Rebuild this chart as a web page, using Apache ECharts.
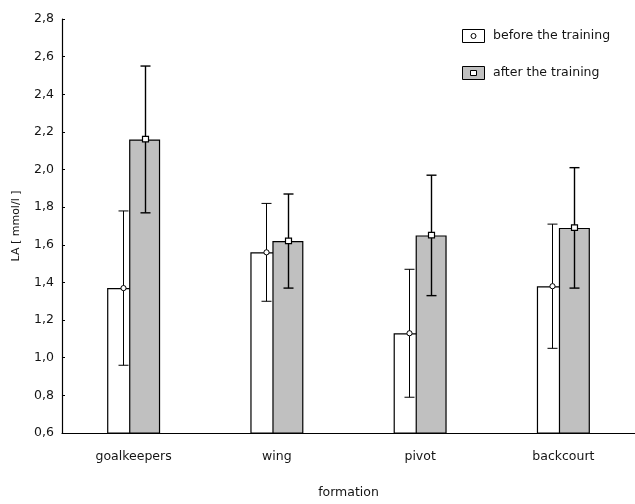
<!DOCTYPE html>
<html>
<head>
<meta charset="utf-8">
<script src="https://cdn.jsdelivr.net/npm/echarts@6/dist/echarts.min.js"></script>
<style>
  html, body { margin: 0; padding: 0; background: #fff; }
  #chart { width: 635px; height: 504px; }
</style>
</head>
<body>
<div id="chart"></div>
<script>
// Blood lactate (LA) by playing position, before and after training: mean ± SD
const categories = ['goalkeepers', 'wing', 'pivot', 'backcourt'];
const beforeMean = [1.37, 1.56, 1.13, 1.38];
const beforeSd   = [0.41, 0.26, 0.34, 0.33];
const afterMean  = [2.16, 1.62, 1.65, 1.69];
const afterSd    = [0.39, 0.25, 0.32, 0.32];
const yMin = 0.6, yMax = 2.8, yStep = 0.2;

const FONT = 'DejaVu Sans';
const FS = 12.5;
const TEXT = '#141414';
const BAR_W = 31;
const BAR_GAP = -0.29;
const HALF_STEP = (BAR_W + BAR_W * BAR_GAP) / 2;
const CAP = 5;

function errData(mean, sd) {
  return mean.map((m, i) => [i, +(m - sd[i]).toFixed(3), +(m + sd[i]).toFixed(3), m]);
}

function errRender(offset, marker, lw) {
  return function (params, api) {
    const i = api.value(0);
    const lo = api.coord([i, api.value(1)]);
    const hi = api.coord([i, api.value(2)]);
    const mid = api.coord([i, api.value(3)]);
    const x = Math.round(lo[0] + offset) + 0.5;
    const st = { stroke: '#000', lineWidth: lw };
    const children = [
      { type: 'line', shape: { x1: x, y1: hi[1], x2: x, y2: lo[1] }, style: st },
      { type: 'line', shape: { x1: x - CAP, y1: hi[1], x2: x + CAP, y2: hi[1] }, style: st },
      { type: 'line', shape: { x1: x - CAP, y1: lo[1], x2: x + CAP, y2: lo[1] }, style: st }
    ];
    if (marker === 'circle') {
      children.push({ type: 'circle', shape: { cx: x, cy: mid[1], r: 2.6 },
        style: { fill: '#fff', stroke: '#000', lineWidth: 1 } });
    } else {
      children.push({ type: 'rect', shape: { x: x - 3, y: mid[1] - 3, width: 6, height: 5.5 },
        style: { fill: '#fff', stroke: '#000', lineWidth: 1.2 } });
    }
    return { type: 'group', children: children };
  };
}

const chart = echarts.init(document.getElementById('chart'), null, { renderer: 'canvas' });

chart.setOption({
  animation: false,
  backgroundColor: '#fff',
  textStyle: { fontFamily: FONT, color: TEXT },
  grid: { left: 62, top: 19, width: 578, height: 414 },
  xAxis: {
    type: 'category',
    data: categories,
    boundaryGap: true,
    axisLine: { lineStyle: { color: '#000', width: 1.2 } },
    axisTick: { show: false },
    axisLabel: { color: TEXT, fontFamily: FONT, fontSize: FS, margin: 17 },
    name: 'formation',
    nameLocation: 'middle',
    nameGap: 53,
    nameTextStyle: { color: TEXT, fontFamily: FONT, fontSize: FS }
  },
  yAxis: {
    type: 'value',
    min: yMin, max: yMax, interval: yStep,
    axisLine: { show: true, lineStyle: { color: '#000', width: 1.2 } },
    axisTick: { show: true, inside: true, length: 3, lineStyle: { color: '#000' } },
    splitLine: { show: false },
    axisLabel: {
      color: TEXT, fontFamily: FONT, fontSize: FS, margin: 8,
      formatter: v => v.toFixed(1).replace('.', ',')
    },
    name: 'LA [ mmol/l ]',
    nameLocation: 'middle',
    nameGap: 40,
    nameTextStyle: { color: TEXT, fontFamily: FONT, fontSize: 11 }
  },
  series: [
    {
      name: 'before the training',
      type: 'bar',
      data: beforeMean,
      barWidth: BAR_W,
      barGap: (BAR_GAP * 100) + '%',
      itemStyle: { color: '#fff', borderColor: '#000', borderWidth: 1.2 }
    },
    {
      name: 'after the training',
      type: 'bar',
      data: afterMean,
      barWidth: BAR_W,
      barGap: (BAR_GAP * 100) + '%',
      itemStyle: { color: '#c0c0c0', borderColor: '#000', borderWidth: 1.2 }
    },
    {
      type: 'custom',
      renderItem: errRender(-HALF_STEP, 'circle', 1),
      data: errData(beforeMean, beforeSd),
      encode: { x: 0, y: [1, 2] },
      z: 5
    },
    {
      type: 'custom',
      renderItem: errRender(HALF_STEP, 'square', 1.4),
      data: errData(afterMean, afterSd),
      encode: { x: 0, y: [1, 2] },
      z: 5
    }
  ],
  graphic: [
    { type: 'rect', shape: { x: 462.5, y: 29.5, width: 22, height: 13 },
      style: { fill: '#fff', stroke: '#000', lineWidth: 1 } },
    { type: 'circle', shape: { cx: 473.5, cy: 36, r: 2.5 },
      style: { fill: '#fff', stroke: '#000', lineWidth: 1 } },
    { type: 'text', x: 493, y: 36,
      style: { text: 'before the training', fill: TEXT, font: FS + 'px "' + FONT + '"', verticalAlign: 'middle' } },
    { type: 'rect', shape: { x: 462.5, y: 66.5, width: 22, height: 13 },
      style: { fill: '#c0c0c0', stroke: '#000', lineWidth: 1 } },
    { type: 'rect', shape: { x: 470.5, y: 70.5, width: 6, height: 5 },
      style: { fill: '#fff', stroke: '#000', lineWidth: 1 } },
    { type: 'text', x: 493, y: 72.5,
      style: { text: 'after the training', fill: TEXT, font: FS + 'px "' + FONT + '"', verticalAlign: 'middle' } }
  ]
});
</script>
</body>
</html>
